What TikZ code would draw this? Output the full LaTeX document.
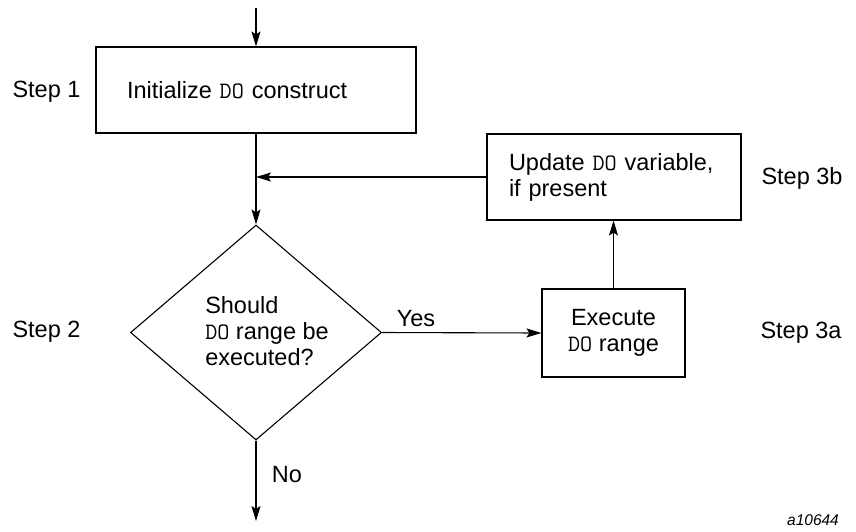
\documentclass[tikz,border=0pt]{standalone}
\usepackage{fontspec}
\setmainfont{Liberation Sans}
\usetikzlibrary{shapes.geometric,arrows.meta}
\newcommand\dokw{{\ttfamily DO}}

\tikzset{
  flow/.style={line width=1.1pt},
  arr/.style={flow,-{Stealth[length=15pt,width=9pt,inset=3pt]}},
  procbox/.style={draw,flow,rectangle,inner sep=0pt},
  txt/.style={font=\fontsize{23.5}{26}\selectfont,inner sep=0pt},
  steplabel/.style={txt,anchor=center},
}

\begin{document}
\begin{tikzpicture}[x=1pt,y=-1pt]
  \useasboundingbox (0,0) rectangle (856,531);

  % step 1: initialise
  \node[procbox,txt,minimum width=320pt,minimum height=86pt,
        text width=258pt,align=left,inner xsep=31pt] (init) at (256,90)
        {Initialize \dokw{} construct};

  % step 3b: update variable
  \node[procbox,txt,minimum width=254pt,minimum height=86pt,
        text width=210pt,align=left,inner xsep=22pt] (update) at (614,177)
        {Update \dokw{} variable,\\if present};

  % step 2: decision
  \node[draw,flow,diamond,minimum width=251pt,minimum height=215pt,
        inner sep=0pt] (test) at (256,332.5) {};
  \node[txt,align=left] (testlbl) at (267,331)
        {Should\\\dokw{} range be\\executed?};

  % step 3a: execute range
  \node[procbox,txt,minimum width=143pt,minimum height=88pt,align=center]
        (exec) at (613.5,333) {Execute\\\dokw{} range};

  % free ends and junction
  \coordinate (entry) at (256,8);
  \coordinate (exit) at (256,521);
  \coordinate (join) at (update.west -| init.south);

  % connectors
  \draw[arr] (entry) -- (init.north);
  \draw[arr] (init.south) -- (test.north);
  \draw[arr] (update.west) -- (join);
  \draw[arr] (test.east) -- (exec.west);
  \draw[arr] (exec.north) -- (exec.north |- update.south);
  \draw[arr] (test.south) -- (exit);

  % branch labels
  \node[txt] (yes) at (416,319) {Yes};
  \node[txt] (no) at (287,475) {No};

  % step labels
  \node[steplabel] (s1) at (46.5,92) {Step 1};
  \node[steplabel] (s2) at (46.5,332) {Step 2};
  \node[steplabel] (s3b) at (802,178) {Step 3b};
  \node[steplabel] (s3a) at (801,333) {Step 3a};

  % figure id
  \node[inner sep=0pt,font=\fontsize{15.5}{18}\selectfont\itshape] (fid)
        at (813,520) {a10644};
\end{tikzpicture}
\end{document}
